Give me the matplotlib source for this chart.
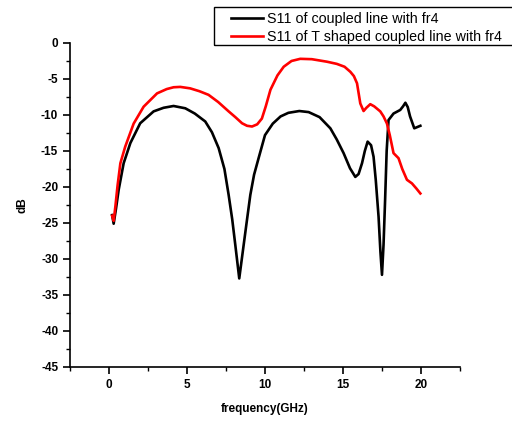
import matplotlib.pyplot as plt
from matplotlib.patches import Rectangle

plt.rcParams['font.family'] = ['Liberation Sans', 'DejaVu Sans']
plt.rcParams['axes.unicode_minus'] = False

# S11 de la linea acoplada (negro)
f_black = [0.2, 0.3, 0.45, 0.62, 0.94, 1.37, 2.0, 2.86, 3.5, 4.14, 4.89, 5.5, 6.17, 6.6, 7.03, 7.4,
           7.67, 7.9, 8.1, 8.35, 8.63, 8.85, 9.06, 9.3, 9.59, 10.0, 10.5, 11.0, 11.5, 12.2, 12.8,
           13.5, 14.19, 14.6, 15.04, 15.45, 15.79, 16.0, 16.22, 16.4, 16.58, 16.8, 16.96, 17.1,
           17.28, 17.4, 17.5, 17.6, 17.7, 17.8, 17.92, 18.24, 18.67, 18.85, 19.0, 19.15, 19.3,
           19.57, 19.96]
s11_black = [-23.9, -25.1, -23.0, -20.4, -16.7, -13.9, -11.15, -9.5, -9.0, -8.75, -9.07, -9.8, -10.9,
             -12.4, -14.6, -17.5, -21.1, -24.5, -28.1, -32.7, -28.1, -24.5, -21.1, -18.3, -16.0,
             -12.8, -11.2, -10.2, -9.7, -9.45, -9.6, -10.3, -11.85, -13.4, -15.3, -17.4, -18.6,
             -18.2, -16.7, -15.0, -13.7, -14.2, -15.8, -19.0, -24.1, -29.0, -32.2, -28.0, -21.8,
             -15.0, -10.7, -9.8, -9.3, -8.8, -8.3, -8.9, -10.2, -11.85, -11.5]

# S11 de la linea acoplada en T (rojo)
f_red = [0.2, 0.3, 0.41, 0.55, 0.73, 1.04, 1.58, 2.22, 3.08, 3.7, 4.14, 4.57, 5.2, 5.8, 6.38, 7.0,
         7.67, 8.1, 8.53, 8.85, 9.17, 9.5, 9.8, 10.05, 10.35, 10.8, 11.2, 11.7, 12.26, 13.0,
         13.97, 14.6, 15.1, 15.47, 15.7, 15.9, 16.11, 16.32, 16.5, 16.75, 17.0, 17.39, 17.6,
         17.82, 18.0, 18.24, 18.56, 18.8, 19.1, 19.42, 19.7, 19.96]
s11_red = [-24.0, -24.7, -22.7, -19.8, -16.7, -14.4, -11.2, -8.85, -7.0, -6.4, -6.15, -6.1, -6.3,
           -6.7, -7.2, -8.2, -9.5, -10.3, -11.15, -11.5, -11.6, -11.3, -10.5, -8.8, -6.5, -4.5,
           -3.3, -2.5, -2.2, -2.25, -2.6, -2.9, -3.3, -4.0, -4.6, -5.6, -8.4, -9.45, -9.0, -8.5,
           -8.8, -9.5, -10.2, -11.2, -12.8, -15.3, -16.0, -17.5, -19.0, -19.5, -20.2, -20.9]

fig = plt.figure(figsize=(5.12, 4.21), dpi=100)
ax = fig.add_axes([0.1367, 0.1283, 0.7617, 0.7696])

l1, = ax.plot(f_black, s11_black, color='black', lw=1.9, label='S11 of coupled line with fr4')
l2, = ax.plot(f_red, s11_red, color='red', lw=1.9, label='S11 of T shaped coupled line with fr4')

ax.set_xlim(-2.5, 22.5)
ax.set_ylim(-45, 0)
ax.set_xticks([0, 5, 10, 15, 20])
ax.set_xticks([-2.5, 2.5, 7.5, 12.5, 17.5, 22.5], minor=True)
ax.set_yticks(list(range(-45, 1, 5)))
ax.set_yticks([-42.5, -37.5, -32.5, -27.5, -22.5, -17.5, -12.5, -7.5, -2.5], minor=True)

for s in ['top', 'right']:
    ax.spines[s].set_visible(False)
for s in ['left', 'bottom']:
    ax.spines[s].set_linewidth(1.2)

ax.tick_params(which='major', direction='out', length=5, width=1.2, labelsize=8.5)
ax.tick_params(which='minor', direction='out', length=3, width=1)
for lab in ax.get_xticklabels() + ax.get_yticklabels():
    lab.set_fontweight('bold')

ax.set_xlabel('frequency(GHz)', fontsize=8.5, fontweight='bold', labelpad=9)
ax.set_ylabel('dB', fontsize=8.5, fontweight='bold', labelpad=9)

# leyenda sin marco, y el recuadro aparte (como en Origin)
leg = fig.legend(handles=[l1, l2], loc='upper left', bbox_to_anchor=(231 / 512, 1 - 12 / 421),
                 fontsize=10.3, frameon=False, handlelength=2.25, handletextpad=0.25,
                 borderpad=0, labelspacing=0.28, borderaxespad=0)
fig.patches.append(Rectangle((214 / 512, 1 - 45 / 421), 0.6, 38 / 421, transform=fig.transFigure,
                             fill=False, edgecolor='black', lw=1.0))

fig.savefig('out.png', dpi=100)
